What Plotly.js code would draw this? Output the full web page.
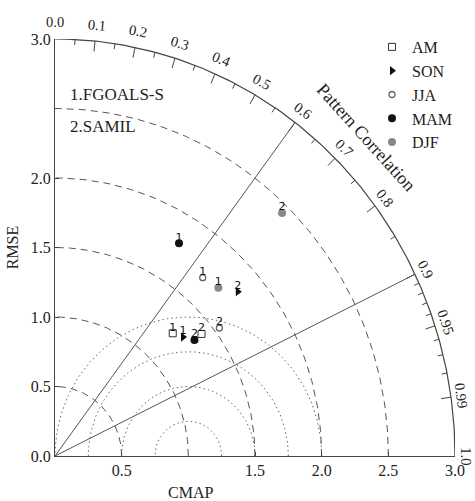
<!DOCTYPE html>
<html><head><meta charset="utf-8">
<script src="https://cdn.plot.ly/plotly-3.0.1.min.js"></script>
<style>body{margin:0;background:#fff}</style>
</head><body><div id="chart" style="width:475px;height:501px"></div>
<script>
// ---- data ----
const seasons = ['AM', 'SON', 'JJA', 'MAM', 'DJF'];
const modelLabels = ['1', '2'];           // 1.FGOALS-S, 2.SAMIL
const amX  = [0.883, 1.099], amY  = [0.883, 0.878];
const sonX = [0.960, 1.371], sonY = [0.856, 1.182];
const jjaX = [1.108, 1.233], jjaY = [1.283, 0.921];
const mamX = [0.930, 1.046], mamY = [1.530, 0.835];
const djfX = [1.225, 1.703], djfY = [1.211, 1.748];
const stdArcs = [0.5, 1.0, 1.5, 2.0, 2.5];
const stdMax = 3.0;
const rmsCircles = [0.25, 0.5, 0.75, 1.0];
const refStd = 1.0;
const corrLines = [0.6, 0.9];
const corrLabelVals = [0.0, 0.1, 0.2, 0.3, 0.4, 0.5, 0.6, 0.7, 0.8, 0.9, 0.95, 0.99, 1.0];
const corrLabels = ['0.0', '0.1', '0.2', '0.3', '0.4', '0.5', '0.6', '0.7', '0.8', '0.9', '0.95', '0.99', '1.0'];
const corrMajorTicks = [0.1, 0.2, 0.3, 0.4, 0.5, 0.6, 0.7, 0.8, 0.9, 0.95, 0.99];
const corrMinorTicks = [0.05, 0.15, 0.25, 0.35, 0.45, 0.55, 0.65, 0.75, 0.85, 0.91, 0.92, 0.93, 0.94, 0.96, 0.97, 0.98];
const xTicks = [0.5, 1.5, 2.0, 2.5, 3.0];
const yTicks = [0.0, 0.5, 1.0, 1.5, 2.0, 3.0];
const modelNames = ['1.FGOALS-S', '2.SAMIL'];

// ---- styles ----
const FONT = 'Liberation Serif, Times New Roman, serif';
const LINE = '#555';
const TXT = '#222';

function arc(cx, cy, r, t0, t1, n) {
  const xs = [], ys = [];
  for (let i = 0; i <= n; i++) {
    const t = t0 + (t1 - t0) * i / n;
    xs.push(cx + r * Math.cos(t)); ys.push(cy + r * Math.sin(t));
  }
  return [xs, ys];
}
const traces = [];
stdArcs.forEach(r => {
  const [xs, ys] = arc(0, 0, r, 0, Math.PI / 2, 120);
  traces.push({x: xs, y: ys, mode: 'lines', line: {color: LINE, width: 1, dash: '7px,5px'}, hoverinfo: 'skip', showlegend: false});
});
{
  const [xs, ys] = arc(0, 0, stdMax, 0, Math.PI / 2, 200);
  traces.push({x: xs, y: ys, mode: 'lines', line: {color: '#444', width: 1.2}, hoverinfo: 'skip', showlegend: false});
}
rmsCircles.forEach(r => {
  const [xs, ys] = arc(refStd, 0, r, 0, Math.PI, 140);
  traces.push({x: xs, y: ys, mode: 'lines', line: {color: '#666', width: 1, dash: '1.5px,3px'}, hoverinfo: 'skip', showlegend: false});
});
corrLines.forEach(c => {
  const t = Math.acos(c);
  traces.push({x: [0, stdMax * Math.cos(t)], y: [0, stdMax * Math.sin(t)], mode: 'lines', line: {color: LINE, width: 1}, hoverinfo: 'skip', showlegend: false});
});
{
  const xs = [], ys = [];
  const add = (c, len) => {
    const t = Math.acos(c);
    xs.push(stdMax * Math.cos(t), (stdMax - len) * Math.cos(t), null);
    ys.push(stdMax * Math.sin(t), (stdMax - len) * Math.sin(t), null);
  };
  corrMajorTicks.forEach(c => add(c, 0.075));
  corrMinorTicks.forEach(c => add(c, 0.04));
  traces.push({x: xs, y: ys, mode: 'lines', line: {color: '#444', width: 1}, hoverinfo: 'skip', showlegend: false});
}
const series = [
  {x: amX,  y: amY,  marker: {symbol: 'square-open', size: 7, color: '#333', line: {width: 1, color: '#333'}}},
  {x: sonX, y: sonY, marker: {symbol: 'triangle-right', size: 8, color: '#111'}},
  {x: jjaX, y: jjaY, marker: {symbol: 'circle-open', size: 6, color: '#666', line: {width: 1.3, color: '#666'}}},
  {x: mamX, y: mamY, marker: {symbol: 'circle', size: 8, color: '#111'}},
  {x: djfX, y: djfY, marker: {symbol: 'circle', size: 8, color: '#888'}},
];
series.forEach((s, i) => {
  traces.push({x: s.x, y: s.y, mode: 'markers', name: seasons[i], marker: s.marker, legendgroup: seasons[i], showlegend: true, hoverinfo: 'name'});
  traces.push({x: s.x, y: s.y, mode: 'text', text: modelLabels, textposition: 'top center',
    textfont: {family: 'DejaVu Sans', size: 11, color: '#111'}, showlegend: false, hoverinfo: 'skip'});
});

// annotations (data -> paper: axes span 0..3 on both)
const sx = 400 / 3, sy = 417 / 3;
const annotations = [];
corrLabelVals.forEach((c, i) => {
  const t = Math.acos(c);
  const r = 3.12 - 0.04 * c * c;
  const phi = Math.atan2(sy * Math.sin(t), sx * Math.cos(t)) * 180 / Math.PI;
  annotations.push({x: r * Math.cos(t) / 3, y: r * Math.sin(t) / 3, xref: 'paper', yref: 'paper', text: corrLabels[i],
    showarrow: false, textangle: 90 - phi, font: {family: FONT, size: 14.5, color: TXT}, xanchor: 'center', yanchor: 'middle', borderpad: 0});
});
annotations.push({x: (366 - 55) / 400, y: (456 - 136.5) / 417, xref: 'paper', yref: 'paper', text: 'Pattern Correlation', showarrow: false,
  textangle: 48, xanchor: 'center', yanchor: 'middle', font: {family: FONT, size: 18, color: TXT}});
annotations.push({x: 0.1 / 3, y: 2.60 / 3, xref: 'paper', yref: 'paper', text: modelNames[0], showarrow: false, xanchor: 'left', yanchor: 'middle',
  font: {family: FONT, size: 17, color: TXT}});
annotations.push({x: 0.1 / 3, y: 2.37 / 3, xref: 'paper', yref: 'paper', text: modelNames[1], showarrow: false, xanchor: 'left', yanchor: 'middle',
  font: {family: FONT, size: 17, color: TXT}});
annotations.push({x: (190 - 55) / 400, y: -(493 - 456) / 417, xref: 'paper', yref: 'paper', text: 'CMAP', showarrow: false,
  xanchor: 'center', yanchor: 'middle', font: {family: FONT, size: 16, color: TXT}});

const layout = {
  width: 475, height: 501,
  margin: {l: 55, r: 20, t: 39, b: 45},
  paper_bgcolor: '#fff', plot_bgcolor: '#fff',
  showlegend: true,
  legend: {x: (372 - 55) / 400, y: 1 + (39 - 30) / 417, xanchor: 'left', yanchor: 'top', bgcolor: 'rgba(0,0,0,0)',
    font: {family: FONT, size: 16, color: TXT}, traceorder: 'grouped', tracegroupgap: 0, itemwidth: 30},
  xaxis: {range: [0, 3], showgrid: false, zeroline: false, showline: true, linecolor: '#444', linewidth: 1,
    ticks: 'inside', ticklen: 4, tickcolor: '#444', tickvals: xTicks, ticktext: xTicks.map(v => v.toFixed(1)),
    tickfont: {family: FONT, size: 16, color: TXT}, fixedrange: true},
  yaxis: {range: [0, 3], showgrid: false, zeroline: false, showline: true, linecolor: '#444', linewidth: 1,
    ticks: 'inside', ticklen: 4, tickcolor: '#444', tickvals: yTicks, ticktext: yTicks.map(v => v.toFixed(1)),
    tickfont: {family: FONT, size: 16, color: TXT}, fixedrange: true,
    title: {text: 'RMSE', font: {family: FONT, size: 16, color: TXT}, standoff: 8}},
  annotations: annotations
};
Plotly.newPlot('chart', traces, layout, {displayModeBar: false, staticPlot: true});
</script></body></html>
